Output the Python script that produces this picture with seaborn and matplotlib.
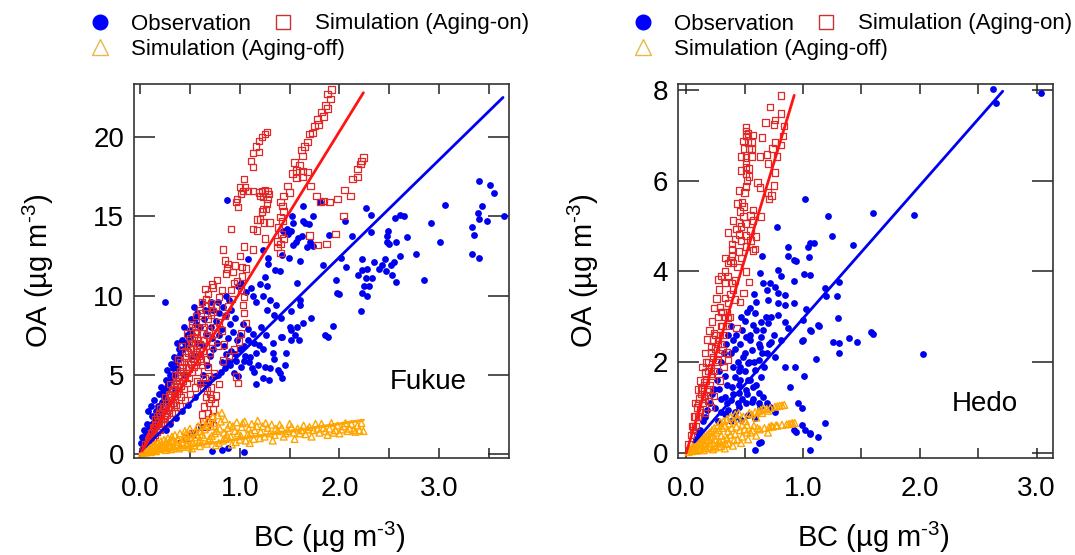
import numpy as np
import pandas as pd
import matplotlib
matplotlib.use("Agg")
import matplotlib.pyplot as plt
import seaborn as sns
from matplotlib.lines import Line2D

# values, (BC, OA) in ug m-3
fukue_obs = [
    (3.40, 17.2), (3.51, 17.0), (3.55, 16.5), (3.43, 15.65), (3.39, 15.2), (3.40, 14.8),
    (3.48, 14.7), (3.65, 15.0), (3.33, 14.3), (3.35, 13.8), (3.33, 12.6), (3.40, 12.4),
    (3.06, 15.7), (2.92, 14.6), (3.01, 13.4), (2.85, 11.0), (2.77, 12.6), (2.68, 13.7),
    (2.61, 15.1), (2.65, 15.0), (2.56, 14.9), (2.57, 13.4), (2.49, 14.1), (2.48, 13.75),
    (2.48, 13.4), (2.50, 13.25), (2.61, 12.5), (2.46, 12.3), (2.55, 12.1), (2.52, 11.9),
    (2.43, 11.9), (2.40, 11.7), (2.47, 11.55), (2.53, 11.3), (2.57, 10.85), (2.35, 12.1),
    (2.28, 11.7), (2.23, 11.6), (2.23, 12.3), (2.19, 11.3), (2.27, 11.1), (2.33, 11.1),
    (2.25, 10.6), (2.30, 10.6), (2.23, 10.15), (2.28, 10.0), (2.22, 9.0), (2.27, 15.5),
    (2.32, 15.1), (2.32, 14.0), (2.13, 13.75), (2.06, 14.7), (2.07, 11.8), (2.02, 12.4),
    (1.97, 11.0), (1.98, 10.15), (2.00, 10.1), (1.93, 8.1),
    (0.87, 16.0), (1.63, 15.65), (1.80, 15.9), (1.73, 15.0), (1.63, 14.7), (1.65, 14.6),
    (1.69, 14.5), (1.52, 15.0), (1.53, 14.6), (1.47, 14.2), (1.43, 14.1), (1.48, 13.9),
    (1.51, 14.1), (1.62, 13.75), (1.70, 13.4), (1.58, 13.6), (1.56, 13.4), (1.53, 13.2),
    (1.67, 13.05), (1.73, 13.1), (1.89, 13.8), (1.42, 12.55), (1.49, 12.4), (1.60, 12.2),
    (1.28, 12.4), (1.28, 12.0), (1.23, 12.9), (1.08, 12.3), (1.35, 11.6), (1.40, 11.55),
    (1.83, 11.9), (1.25, 11.2), (1.57, 10.8), (1.60, 9.7), (1.42, 7.4),
    (0.25, 9.6), (1.20, 10.7), (1.27, 10.6), (1.23, 10.0), (1.36, 9.4), (1.30, 9.7), (1.27, 9.1),
    (1.34, 8.8), (1.41, 8.6), (1.51, 9.0), (1.60, 9.4), (1.71, 8.6), (1.63, 8.25), (1.50, 8.0),
    (1.51, 7.8), (1.57, 8.0), (1.55, 7.5), (1.59, 7.2), (1.51, 7.2), (1.41, 7.4), (1.33, 7.0),
    (1.23, 6.6), (1.33, 6.4), (1.46, 6.4), (1.38, 5.3), (1.40, 5.1), (1.29, 4.7), (1.23, 4.8),
    (1.14, 5.2), (1.09, 5.8), (1.04, 5.9), (1.01, 5.5), (0.98, 4.9), (0.94, 5.1), (1.12, 5.4),
    (1.16, 6.4), (1.19, 6.9), (1.13, 7.6), (1.08, 7.9), (1.03, 8.2), (0.95, 8.6), (0.91, 9.1),
    (0.89, 9.7), (1.06, 10.25), (1.11, 10.45), (1.13, 10.0), (1.16, 9.6), (1.21, 8.0), (1.26, 7.5),
    (1.14, 7.0), (1.08, 7.2), (1.04, 6.8), (0.88, 5.9), (0.91, 6.5), (0.84, 6.8), (0.79, 7.5),
    (0.76, 8.4), (0.71, 8.0), (0.66, 7.6), (0.62, 9.5), (0.65, 9.1), (0.54, 9.3), (0.57, 8.9),
    (0.51, 8.5), (0.44, 8.0), (0.47, 7.5), (0.37, 7.0), (0.39, 6.6), (0.34, 6.1), (0.31, 5.7),
    (0.27, 5.3), (0.26, 4.7), (0.21, 4.2), (0.19, 3.8), (0.14, 3.4), (0.11, 3.0), (0.08, 2.7),
    (0.12, 2.4), (0.07, 1.9), (0.04, 1.5), (0.02, 1.1), (0.01, 0.7), (0.17, 2.6), (0.24, 3.6),
    (0.32, 4.9), (0.61, 1.7), (0.52, 1.3), (0.81, 5.2), (0.96, 5.9), (1.85, 7.5), (1.88, 7.4),
    (0.79, 8.9), (0.71, 9.6), (0.86, 10.0), (0.98, 10.6), (1.01, 10.8), (1.16, 4.4), (1.42, 4.8),
    (0.03, 0.4), (0.05, 0.9), (0.06, 1.3), (0.09, 1.7), (0.10, 1.1), (0.12, 1.9), (0.13, 1.4),
    (0.15, 2.3), (0.16, 1.7), (0.18, 3.0), (0.20, 2.3), (0.22, 3.3), (0.24, 2.7), (0.25, 4.0),
    (0.28, 4.4), (0.29, 3.3), (0.30, 5.0), (0.33, 5.4), (0.35, 4.1), (0.36, 5.8), (0.40, 6.3),
    (0.42, 7.2), (0.45, 5.0), (0.48, 6.9), (0.50, 7.8), (0.53, 6.2), (0.56, 8.2), (0.58, 7.0),
    (0.60, 4.4), (0.63, 5.0), (0.67, 5.6), (0.70, 6.2), (0.73, 6.6), (0.77, 7.0), (0.68, 4.5),
    (0.75, 4.9), (0.82, 5.8), (0.86, 6.3), (0.55, 3.6), (0.48, 3.1), (0.42, 2.7), (0.36, 2.3),
    (0.30, 1.9), (0.26, 1.5), (0.72, 0.2), (0.82, 0.25), (0.88, 0.35), (1.04, 0.1),
    (0.05, 0.4), (0.07, 1.0), (0.09, 1.3), (0.11, 1.6), (0.14, 2.0), (0.16, 2.7), (0.19, 2.5),
    (0.21, 3.1), (0.23, 3.9), (0.26, 3.5), (0.27, 4.2), (0.31, 4.6), (0.34, 5.0), (0.37, 5.4),
    (0.39, 6.0), (0.43, 6.6), (0.45, 7.0), (0.49, 7.3), (0.52, 7.6), (0.55, 8.6), (0.60, 8.0),
    (0.64, 8.5), (0.68, 9.0), (0.73, 9.1), (0.78, 9.6), (0.83, 9.3), (0.86, 8.8), (0.90, 8.2),
    (0.93, 7.7), (0.97, 7.2), (1.00, 6.6), (1.05, 6.2), (1.10, 6.1), (1.18, 5.6), (1.25, 5.5),
    (1.30, 5.4), (1.34, 6.0), (1.45, 5.6), (0.85, 5.4), (0.78, 5.0), (0.72, 4.8), (0.65, 4.5),
    (0.90, 5.6), (0.95, 6.3), (1.00, 7.5), (0.88, 7.3), (0.82, 7.9), (0.72, 7.3), (0.62, 6.9),
    (0.60, 6.3),
]

fukue_on = [
    (1.92, 23.0), (1.88, 22.7), (1.91, 22.4), (1.86, 22.0), (1.88, 21.8), (1.82, 21.6), (1.84, 21.3),
    (1.78, 21.1), (1.79, 20.8), (1.75, 20.7), (1.73, 20.25), (1.70, 20.2), (1.68, 19.7), (1.65, 19.4),
    (1.62, 19.2), (1.63, 18.8), (1.55, 18.4), (1.60, 18.2), (1.57, 17.9), (1.63, 17.85), (1.68, 17.8),
    (1.53, 17.7), (1.57, 17.4), (1.63, 17.5), (1.71, 16.9), (1.48, 16.9), (1.50, 16.5), (1.44, 16.3),
    (1.77, 16.3), (1.81, 15.9), (1.41, 15.9), (1.43, 15.65), (1.44, 15.3), (1.41, 14.95), (1.43, 14.7),
    (1.39, 14.3), (1.42, 13.9), (1.44, 13.6), (1.38, 13.4), (1.41, 13.25), (1.84, 15.95), (1.90, 15.9),
    (1.98, 16.1), (2.05, 16.65), (2.11, 16.3), (2.04, 15.0), (1.96, 13.9), (1.87, 13.25), (1.78, 13.2),
    (1.70, 13.8), (2.13, 17.35), (2.18, 17.5), (2.18, 18.0), (2.21, 18.3), (2.24, 18.7), (2.22, 18.5),
    (1.27, 20.3), (1.25, 20.2), (1.22, 20.0), (1.19, 19.75), (1.16, 19.4), (1.13, 19.0), (1.19, 19.05),
    (1.11, 18.5), (1.13, 18.1), (1.04, 17.35), (1.00, 16.85), (1.05, 16.85), (1.03, 16.6), (1.08, 16.6),
    (1.13, 16.6), (1.19, 16.5), (1.22, 16.6), (1.25, 16.65), (1.28, 16.6), (1.29, 16.4), (1.23, 16.2),
    (1.20, 16.3), (0.97, 16.1), (0.96, 15.9), (0.98, 15.6), (1.01, 16.4), (1.28, 16.1), (1.27, 15.8),
    (1.23, 15.45), (1.26, 15.45), (1.22, 15.3), (1.17, 14.8), (1.20, 14.8), (1.30, 14.6), (1.24, 14.6),
    (1.13, 14.2), (1.17, 14.1), (0.91, 14.2), (1.25, 13.6), (1.04, 13.1), (1.13, 12.9), (0.83, 12.9),
    (1.00, 12.5), (0.85, 12.2), (0.88, 12.0), (0.95, 11.9), (1.02, 11.8), (1.06, 11.7), (0.87, 11.7),
    (0.86, 11.4), (0.93, 11.5), (1.02, 11.2), (0.97, 10.9), (1.38, 13.05), (1.41, 12.7),
    (0.72, 10.7), (0.82, 10.35), (0.79, 9.9), (0.91, 10.35), (0.94, 10.8), (1.01, 10.35), (1.04, 9.9),
    (1.03, 9.4), (1.04, 8.9), (1.06, 8.25), (1.01, 7.6), (0.99, 7.1), (0.94, 6.6), (0.89, 6.2),
    (0.83, 5.9), (0.84, 6.9), (0.82, 7.8), (0.74, 8.0), (0.68, 8.5), (0.61, 8.9), (0.66, 9.3),
    (0.71, 9.5), (0.63, 7.2), (0.57, 7.6), (0.52, 8.0), (0.51, 7.0), (0.56, 6.4), (0.61, 5.9),
    (0.68, 5.5), (0.69, 4.9), (0.71, 4.2), (0.66, 3.6), (0.69, 3.2), (0.73, 2.8), (0.68, 2.6),
    (0.63, 2.1), (0.66, 1.7), (0.59, 1.7), (0.52, 1.3), (0.46, 1.0), (0.41, 0.7), (0.76, 3.7),
    (0.79, 4.4), (0.74, 5.1), (0.78, 6.8), (0.96, 4.9), (0.98, 4.5), (0.68, 10.1), (0.73, 10.5),
    (0.66, 9.8), (0.77, 11.0),
    (0.03, 0.3), (0.05, 0.6), (0.06, 0.4), (0.08, 0.9), (0.09, 0.7), (0.10, 1.1), (0.11, 0.8),
    (0.12, 1.4), (0.13, 1.0), (0.14, 1.6), (0.15, 1.2), (0.16, 1.9), (0.17, 1.4), (0.18, 2.1),
    (0.19, 1.6), (0.20, 2.4), (0.21, 1.8), (0.22, 2.7), (0.23, 2.0), (0.24, 2.9), (0.25, 2.3),
    (0.26, 3.2), (0.27, 2.5), (0.28, 3.4), (0.29, 2.8), (0.30, 3.7), (0.31, 3.0), (0.32, 4.0),
    (0.33, 3.2), (0.34, 4.3), (0.35, 3.5), (0.36, 4.6), (0.37, 3.8), (0.38, 4.9), (0.39, 4.0),
    (0.40, 5.2), (0.41, 4.3), (0.42, 5.5), (0.43, 4.6), (0.44, 5.8), (0.45, 4.9), (0.46, 6.1),
    (0.47, 5.1), (0.48, 6.4), (0.49, 5.4), (0.50, 6.7), (0.51, 5.7), (0.52, 7.0), (0.53, 6.0),
    (0.54, 7.4), (0.55, 6.3), (0.56, 7.7), (0.57, 6.6), (0.58, 8.0), (0.60, 6.9), (0.62, 8.3),
    (0.64, 7.2), (0.20, 1.5), (0.30, 2.2), (0.40, 3.0), (0.50, 3.8), (0.55, 4.2), (0.60, 4.5),
    (0.65, 4.8), (0.35, 2.6), (0.45, 3.4), (0.25, 1.9), (0.15, 2.2), (0.20, 2.9), (0.25, 3.6),
    (0.30, 4.4), (0.35, 5.0), (0.40, 5.8), (0.45, 6.5), (0.50, 7.3), (0.55, 8.0), (0.38, 6.0),
    (0.42, 6.8), (0.47, 7.6), (0.52, 8.2), (0.56, 8.7), (0.60, 9.1), (0.62, 9.6), (0.65, 10.4),
    (0.58, 5.2), (0.62, 5.6), (0.66, 6.0), (0.70, 6.4), (0.72, 7.1), (0.75, 7.6), (0.79, 8.3),
    (0.85, 8.7), (0.88, 9.3), (0.92, 9.8), (0.64, 3.0), (0.62, 2.5), (0.70, 3.8), (0.72, 2.3),
    (0.75, 3.2),
    (0.07, 0.6), (0.09, 1.0), (0.11, 1.3), (0.13, 1.7), (0.15, 1.8), (0.17, 2.4), (0.19, 2.6),
    (0.21, 2.2), (0.23, 3.0), (0.24, 2.2), (0.26, 2.8), (0.28, 2.9), (0.29, 3.8), (0.31, 3.4),
    (0.32, 2.6), (0.33, 4.1), (0.34, 3.7), (0.36, 3.1), (0.37, 4.4), (0.39, 4.6), (0.41, 3.6),
    (0.41, 5.0), (0.43, 5.2), (0.44, 4.1), (0.46, 5.5), (0.47, 4.5), (0.48, 5.8), (0.49, 4.8),
    (0.51, 6.2), (0.52, 5.2), (0.53, 6.6), (0.54, 5.5), (0.55, 7.0), (0.57, 5.8), (0.58, 7.2),
    (0.59, 6.2), (0.61, 7.6), (0.63, 6.5), (0.64, 8.0), (0.66, 6.8), (0.67, 7.5), (0.69, 7.8),
    (0.71, 8.8), (0.73, 9.0), (0.76, 9.3), (0.57, 4.6), (0.63, 4.2), (0.67, 4.0), (0.71, 3.5),
    (0.70, 2.0), (0.73, 1.8),
]

fukue_off = [
    (0.02, 0.05), (0.04, 0.1), (0.05, 0.2), (0.07, 0.15), (0.08, 0.3), (0.10, 0.2), (0.10, 0.4),
    (0.12, 0.3), (0.13, 0.5), (0.15, 0.25), (0.15, 0.6), (0.17, 0.4), (0.18, 0.7), (0.20, 0.3),
    (0.20, 0.55), (0.21, 0.8), (0.23, 0.45), (0.24, 0.9), (0.25, 0.65), (0.27, 0.35), (0.28, 1.0),
    (0.29, 0.7), (0.30, 0.5), (0.32, 1.1), (0.33, 0.8), (0.34, 0.4), (0.35, 1.2), (0.37, 0.6),
    (0.38, 0.95), (0.40, 1.3), (0.41, 0.45), (0.42, 0.75), (0.44, 1.1), (0.45, 1.45), (0.47, 0.55),
    (0.48, 0.9), (0.50, 1.25), (0.50, 1.6), (0.52, 0.35), (0.53, 0.7), (0.55, 1.05), (0.56, 1.4),
    (0.58, 1.75), (0.60, 0.5), (0.60, 0.9), (0.62, 1.2), (0.63, 1.95), (0.65, 1.55), (0.67, 0.65),
    (0.68, 2.15), (0.70, 1.0), (0.71, 1.75), (0.73, 2.35), (0.75, 1.3), (0.76, 0.55), (0.78, 2.45),
    (0.80, 1.6), (0.82, 2.6), (0.83, 0.85), (0.85, 2.2), (0.87, 1.2), (0.90, 1.85), (0.92, 0.6),
    (0.95, 1.45), (0.97, 2.0), (1.00, 0.9), (1.02, 1.7), (1.05, 2.05), (1.08, 1.25), (1.10, 0.7),
    (1.12, 1.9), (1.15, 1.5), (1.18, 2.1), (1.20, 1.0), (1.23, 1.75), (1.26, 1.95), (1.30, 1.3),
    (1.33, 0.85), (1.36, 1.6), (1.40, 1.85), (1.44, 1.1), (1.48, 1.45), (1.52, 1.7), (1.55, 0.95),
    (1.60, 1.3), (1.64, 1.8), (1.68, 1.55), (1.72, 1.1), (1.76, 1.9), (1.80, 1.35), (1.84, 1.65),
    (1.88, 1.2), (1.92, 1.95), (1.96, 1.5), (2.00, 1.3), (2.04, 1.75), (2.08, 1.45), (2.12, 1.9),
    (2.16, 1.4), (2.20, 1.5), (2.24, 1.45),
    (0.06, 0.1), (0.09, 0.22), (0.11, 0.12), (0.14, 0.42), (0.16, 0.18), (0.19, 0.5), (0.22, 0.62),
    (0.26, 0.25), (0.26, 0.8), (0.31, 0.3), (0.31, 0.9), (0.36, 0.75), (0.39, 0.35), (0.43, 0.95),
    (0.46, 1.25), (0.49, 0.45), (0.51, 1.05), (0.54, 0.55), (0.57, 1.2), (0.59, 0.75), (0.61, 1.45),
    (0.64, 1.05), (0.66, 1.8), (0.69, 0.85), (0.72, 1.15), (0.74, 1.95), (0.77, 1.45), (0.79, 0.7),
    (0.81, 2.05), (0.84, 1.35), (0.86, 0.95), (0.88, 1.65), (0.91, 1.1), (0.93, 1.75), (0.96, 0.75),
    (0.98, 1.3), (1.01, 1.15), (1.03, 1.95), (1.06, 0.85), (1.09, 1.6), (1.11, 1.35), (1.14, 0.95),
    (1.17, 1.75), (1.21, 1.4), (1.25, 1.1), (1.28, 1.65), (1.32, 1.85), (1.35, 1.2), (1.38, 1.45),
    (1.42, 1.65), (1.46, 1.3), (1.50, 1.9), (1.54, 1.35), (1.58, 1.6), (1.62, 1.5), (1.66, 1.25),
    (1.70, 1.7), (1.74, 1.5), (1.78, 1.6), (1.82, 1.9), (1.86, 1.45), (1.90, 1.6), (1.94, 1.35),
    (1.98, 1.8), (2.02, 1.55), (2.06, 1.95), (2.10, 1.6), (2.14, 1.5), (2.18, 1.8), (2.22, 1.95),
]

hedo_obs = [
    (2.63, 8.01), (2.65, 7.70), (3.04, 7.94), (1.02, 5.59), (1.21, 5.23), (1.60, 5.29), (1.95, 5.25),
    (1.25, 4.79), (1.43, 4.58), (1.04, 4.53), (1.06, 4.62), (1.09, 4.62), (1.05, 4.32), (1.01, 3.94),
    (1.06, 3.93), (1.19, 3.63), (1.20, 3.46), (1.29, 3.46), (1.31, 3.76), (1.03, 3.17), (1.30, 2.97),
    (1.14, 2.80), (1.07, 2.68), (0.99, 2.47), (1.26, 2.44), (1.31, 2.42), (1.39, 2.53), (1.46, 2.44),
    (1.58, 2.66), (1.60, 2.62), (1.31, 2.20), (1.11, 2.06), (2.03, 2.18), (1.01, 1.70), (0.99, 0.99),
    (1.19, 0.66), (0.99, 0.62), (1.02, 0.51), (1.06, 0.42), (1.13, 0.35), (1.06, 0.07),
    (0.78, 4.97), (0.87, 4.53), (0.65, 4.33), (0.87, 4.35), (0.92, 4.26), (0.94, 4.22),
    (0.63, 3.97), (0.79, 4.04), (0.81, 3.89), (0.92, 3.80), (0.66, 3.75), (0.72, 3.75), (0.76, 3.66),
    (0.69, 3.60), (0.79, 3.53), (0.85, 3.49), (0.60, 3.33), (0.70, 3.38), (0.79, 3.31), (0.85, 3.27),
    (0.92, 3.31), (0.59, 3.09), (0.68, 3.00), (0.73, 3.00), (0.79, 3.05), (0.57, 2.83), (0.64, 2.89),
    (0.70, 2.87), (0.85, 2.89), (0.87, 2.76), (0.51, 2.56), (0.55, 2.49), (0.64, 2.56), (0.75, 2.61),
    (0.73, 2.45), (0.63, 2.34), (0.56, 2.27), (0.49, 2.12), (0.46, 1.90), (0.53, 1.99), (0.62, 2.05),
    (0.69, 2.21), (0.76, 2.12), (0.81, 2.49), (0.59, 1.83), (0.64, 1.68), (0.55, 1.61), (0.46, 1.61),
    (0.42, 1.68), (0.39, 1.46), (0.45, 1.32), (0.51, 1.39), (0.57, 1.46), (0.62, 1.32), (0.66, 1.24),
    (0.69, 1.10), (0.63, 1.02), (0.56, 1.13), (0.51, 1.10), (0.45, 1.02), (0.38, 1.17), (0.33, 1.24),
    (0.36, 0.95), (0.42, 0.79), (0.47, 0.73), (0.53, 0.84), (0.59, 0.77), (0.72, 1.02), (0.76, 0.91),
    (0.85, 1.90), (0.93, 1.90), (0.89, 1.46), (0.96, 1.10), (0.92, 0.51), (0.94, 0.46), (1.06, 0.44),
    (0.62, 0.22), (0.64, 0.24), (0.59, 0.07), (1.00, 2.49), (1.13, 2.83), (1.06, 2.72), (1.00, 2.94),
    (0.08, 0.30), (0.10, 0.45), (0.12, 0.50), (0.14, 0.70), (0.16, 0.80), (0.18, 0.95), (0.20, 1.10),
    (0.22, 1.30), (0.24, 1.40), (0.26, 1.60), (0.28, 1.80), (0.30, 2.00), (0.32, 2.20), (0.34, 2.40),
    (0.36, 2.60), (0.38, 2.80), (0.40, 2.50), (0.42, 2.30), (0.44, 2.00), (0.46, 2.40), (0.48, 2.70),
    (0.50, 2.90), (0.52, 3.10), (0.45, 1.80), (0.40, 1.90), (0.35, 1.50), (0.30, 1.20), (0.25, 1.00),
    (0.28, 1.40), (0.33, 1.70), (0.38, 2.20), (0.43, 2.60), (0.47, 3.00), (0.55, 3.20), (0.50, 2.20),
    (0.55, 2.60), (0.60, 2.70), (0.58, 2.00), (0.62, 2.40), (0.65, 2.20), (0.35, 1.10), (0.40, 1.30),
    (0.30, 0.90), (0.45, 1.50), (0.50, 1.80), (0.27, 0.70), (0.33, 0.85), (0.38, 0.70), (0.42, 0.90),
    (0.53, 1.60), (0.60, 1.50), (0.67, 1.90), (0.71, 2.40), (0.66, 2.70), (0.58, 3.50), (0.54, 2.00),
    (0.48, 1.20), (0.44, 1.10), (0.52, 1.30), (0.57, 1.20), (0.62, 1.10),
]

hedo_on = [
    (0.81, 7.88), (0.72, 7.62), (0.81, 7.48), (0.76, 7.33), (0.68, 7.28), (0.75, 7.24), (0.84, 7.20),
    (0.51, 7.17), (0.51, 7.09), (0.53, 7.04), (0.57, 7.00), (0.51, 6.98), (0.65, 6.95), (0.83, 6.98),
    (0.49, 6.87), (0.53, 6.84), (0.56, 6.84), (0.76, 6.84), (0.81, 6.78), (0.50, 6.71), (0.54, 6.71),
    (0.56, 6.71), (0.74, 6.71), (0.47, 6.53), (0.51, 6.51), (0.56, 6.53), (0.63, 6.53), (0.69, 6.58),
    (0.78, 6.53), (0.51, 6.40), (0.70, 6.38), (0.51, 6.29), (0.54, 6.27), (0.47, 6.22), (0.76, 6.18),
    (0.51, 6.16), (0.54, 6.09), (0.52, 6.00), (0.61, 5.96), (0.63, 5.85), (0.75, 5.89), (0.51, 5.87),
    (0.45, 5.78), (0.50, 5.74), (0.70, 5.74), (0.73, 5.67), (0.71, 5.60), (0.48, 5.52), (0.44, 5.50),
    (0.49, 5.43), (0.57, 5.36), (0.46, 5.32), (0.55, 5.23), (0.64, 5.21), (0.49, 5.21), (0.40, 5.12),
    (0.45, 5.08), (0.51, 5.06), (0.57, 5.12), (0.47, 4.99), (0.43, 4.94), (0.55, 4.90), (0.36, 4.86),
    (0.45, 4.81), (0.51, 4.79), (0.60, 4.77), (0.42, 4.72), (0.47, 4.68), (0.55, 4.68), (0.39, 4.61),
    (0.51, 4.55), (0.59, 4.50), (0.39, 4.48), (0.45, 4.44), (0.39, 4.35), (0.57, 4.46), (0.38, 4.24),
    (0.36, 4.19), (0.40, 4.19), (0.33, 4.00), (0.27, 3.82), (0.36, 3.90), (0.33, 3.75), (0.39, 3.75),
    (0.51, 4.00), (0.54, 3.77), (0.49, 3.53), (0.46, 3.33), (0.42, 3.38), (0.33, 3.42), (0.29, 3.22),
    (0.31, 3.11), (0.27, 3.00), (0.36, 2.98), (0.43, 2.76), (0.30, 2.80), (0.24, 2.65), (0.27, 2.49),
    (0.21, 2.34), (0.21, 2.21), (0.31, 2.27), (0.36, 2.05), (0.35, 2.21), (0.27, 2.05), (0.17, 1.99),
    (0.16, 1.77), (0.21, 1.74), (0.15, 1.55), (0.13, 1.43), (0.20, 1.41), (0.15, 1.26), (0.19, 1.14),
    (0.10, 1.10), (0.12, 0.95), (0.08, 0.80), (0.16, 0.88), (0.06, 0.58), (0.21, 1.02), (0.24, 1.26),
    (0.29, 1.60), (0.32, 1.90),
    (0.02, 0.2), (0.04, 0.4), (0.05, 0.6), (0.06, 0.5), (0.07, 0.8), (0.08, 0.6), (0.09, 1.0),
    (0.10, 0.8), (0.11, 1.2), (0.12, 0.9), (0.13, 1.3), (0.14, 1.1), (0.15, 1.5), (0.16, 1.2),
    (0.17, 1.6), (0.18, 1.4), (0.19, 1.8), (0.20, 1.5), (0.21, 1.9), (0.22, 1.7), (0.23, 2.1),
    (0.24, 1.8), (0.25, 2.3), (0.26, 2.0), (0.27, 2.4), (0.28, 2.2), (0.29, 2.6), (0.30, 2.4),
    (0.31, 2.8), (0.32, 2.6), (0.33, 3.0), (0.34, 2.8), (0.35, 3.1), (0.36, 3.3), (0.37, 3.0),
    (0.38, 3.5), (0.40, 3.6), (0.42, 3.8), (0.12, 1.6), (0.14, 1.9), (0.10, 1.4), (0.08, 1.1),
    (0.16, 2.2), (0.18, 2.5), (0.20, 2.7), (0.22, 2.9), (0.24, 3.2), (0.26, 3.4), (0.28, 3.6),
    (0.44, 4.1), (0.47, 4.3), (0.30, 3.9), (0.33, 4.3), (0.14, 1.4), (0.19, 2.0), (0.25, 2.6),
    (0.30, 3.1), (0.23, 2.5),
]

hedo_off = [
    (0.02, 0.02), (0.03, 0.06), (0.05, 0.04), (0.05, 0.12), (0.07, 0.08), (0.08, 0.18), (0.09, 0.05),
    (0.10, 0.14), (0.11, 0.25), (0.12, 0.10), (0.13, 0.20), (0.14, 0.32), (0.15, 0.06), (0.16, 0.16),
    (0.17, 0.28), (0.18, 0.40), (0.19, 0.12), (0.20, 0.22), (0.21, 0.35), (0.22, 0.50), (0.23, 0.08),
    (0.24, 0.18), (0.25, 0.30), (0.26, 0.45), (0.27, 0.60), (0.28, 0.14), (0.29, 0.25), (0.30, 0.38),
    (0.31, 0.55), (0.32, 0.70), (0.33, 0.10), (0.34, 0.20), (0.35, 0.32), (0.36, 0.48), (0.37, 0.65),
    (0.38, 0.80), (0.40, 0.16), (0.41, 0.28), (0.42, 0.42), (0.43, 0.58), (0.44, 0.75), (0.45, 0.88),
    (0.47, 0.22), (0.48, 0.36), (0.50, 0.52), (0.51, 0.70), (0.53, 0.30), (0.55, 0.45), (0.56, 0.85),
    (0.58, 0.60), (0.60, 0.38), (0.62, 0.92), (0.63, 0.52), (0.66, 0.98), (0.67, 0.55), (0.70, 0.45),
    (0.72, 0.99), (0.74, 0.58), (0.76, 1.02), (0.78, 0.60), (0.80, 1.04), (0.82, 0.62), (0.84, 1.06),
    (0.86, 0.63), (0.90, 0.65), (0.93, 0.66), (0.65, 0.88), (0.70, 0.93), (0.60, 0.78), (0.52, 0.62),
    (0.04, 0.08), (0.06, 0.15), (0.08, 0.10), (0.09, 0.22), (0.11, 0.08), (0.12, 0.18), (0.13, 0.30),
    (0.15, 0.20), (0.16, 0.36), (0.17, 0.10), (0.19, 0.30), (0.20, 0.45), (0.21, 0.15), (0.23, 0.38),
    (0.24, 0.55), (0.25, 0.12), (0.27, 0.22), (0.28, 0.50), (0.29, 0.68), (0.30, 0.15), (0.32, 0.30),
    (0.33, 0.60), (0.35, 0.75), (0.36, 0.22), (0.38, 0.40), (0.39, 0.55), (0.41, 0.70), (0.42, 0.85),
    (0.44, 0.30), (0.46, 0.50), (0.48, 0.62), (0.49, 0.80), (0.52, 0.45), (0.54, 0.88), (0.57, 0.50),
    (0.59, 0.90), (0.61, 0.55), (0.64, 0.95), (0.69, 0.97), (0.71, 0.57), (0.73, 0.60), (0.77, 0.61),
    (0.78, 1.03), (0.82, 1.05), (0.88, 0.64), (0.91, 0.66),
]

# regression lines (end points)
fukue_obs_fit = ([0.0, 3.64], [0.13, 22.5])
fukue_on_fit = ([0.0, 2.24], [0.0, 22.8])
fukue_off_fit = ([0.0, 2.24], [0.0, 2.14])
hedo_obs_fit = ([0.07, 2.71], [0.24, 7.97])
hedo_on_fit = ([0.0, 0.925], [0.0, 7.88])

xtick_vals = [0, 1, 2, 3]
xtick_labels = ["0.0", "1.0", "2.0", "3.0"]
xtick_minor = [0.5, 1.5, 2.5, 3.5]
fukue_yticks = [0, 5, 10, 15, 20]
hedo_yticks = [0, 2, 4, 6, 8]

sns.set_style("ticks")
plt.rcParams["font.family"] = ["Liberation Sans", "DejaVu Sans"]
plt.rcParams["mathtext.fontset"] = "custom"
plt.rcParams["mathtext.rm"] = "Liberation Sans"
plt.rcParams["mathtext.it"] = "Liberation Sans:italic"
plt.rcParams["mathtext.bf"] = "Liberation Sans:bold"
for key in ["text.color", "axes.labelcolor", "xtick.labelcolor", "ytick.labelcolor"]:
    plt.rcParams[key] = "black"

BLUE = "#0000f0"
RED_SQ = "#e02828"
RED_LN = "#ff1414"
ORANGE = "#ffa500"
UNIT = "(µg m$^{\u2010 3}$)"


def to_df(pairs):
    return pd.DataFrame(pairs, columns=["bc", "oa"])


def draw_panel(ax, obs, on, off, fits, xlim, ylim, yticks, site, site_xy):
    sns.scatterplot(data=to_df(obs), x="bc", y="oa", ax=ax, marker="o", s=24,
                    color=BLUE, edgecolor=BLUE, linewidth=0)
    sns.scatterplot(data=to_df(on), x="bc", y="oa", ax=ax, marker="s", s=21,
                    facecolor="none", edgecolor=RED_SQ, linewidth=0.9)
    sns.scatterplot(data=to_df(off), x="bc", y="oa", ax=ax, marker="^", s=24,
                    facecolor="none", edgecolor=ORANGE, linewidth=1.0)
    for (fx, fy), c in fits:
        sns.lineplot(x=fx, y=fy, ax=ax, color=c, linewidth=2.0, estimator=None)

    ax.set_xlim(*xlim)
    ax.set_ylim(*ylim)
    ax.set_xticks(xtick_vals)
    ax.set_xticklabels(xtick_labels)
    ax.set_xticks([t for t in xtick_minor if t < xlim[1]], minor=True)
    ax.set_yticks(yticks)
    ax.tick_params(axis="x", which="both", direction="in", length=7, width=1.1,
                   top=True, bottom=True, labelsize=20, pad=13, color="#222222")
    ax.tick_params(axis="y", which="both", direction="in", length=15, width=1.1,
                   left=True, right=True, labelsize=20, pad=7, color="#222222")
    for sp in ax.spines.values():
        sp.set_linewidth(1.2)
        sp.set_color("#333333")

    ax.set_xlabel("BC " + UNIT, fontsize=21)
    ax.set_ylabel("OA " + UNIT, fontsize=21)
    ax.text(site_xy[0], site_xy[1], site, fontsize=20, ha="center", va="center")


fig = plt.figure(figsize=(10.75, 5.55), dpi=100)
ax1 = fig.add_axes([0.1247, 0.1748, 0.3488, 0.6739])
ax2 = fig.add_axes([0.6307, 0.1748, 0.3488, 0.6739])

draw_panel(ax1, fukue_obs, fukue_on, fukue_off,
           [(fukue_obs_fit, BLUE), (fukue_on_fit, RED_LN), (fukue_off_fit, ORANGE)],
           (-0.06, 3.70), (-0.25, 23.35), fukue_yticks, "Fukue", (2.89, 4.54))
draw_panel(ax2, hedo_obs, hedo_on, hedo_off,
           [(hedo_obs_fit, BLUE), (hedo_on_fit, RED_LN)],
           (-0.07, 3.14), (-0.11, 8.13), hedo_yticks, "Hedo", (2.56, 1.08))

ax1.xaxis.set_label_coords(0.52, -0.165)
ax2.xaxis.set_label_coords(0.52, -0.165)
ax1.yaxis.set_label_coords(-0.208, 0.5)
ax2.yaxis.set_label_coords(-0.205, 0.5)

h_obs = Line2D([], [], linestyle="none", marker="o", markersize=10.5,
               markerfacecolor="#0000ff", markeredgecolor="#0000ff")
h_on = Line2D([], [], linestyle="none", marker="s", markersize=10,
              markerfacecolor="none", markeredgecolor="#c83232", markeredgewidth=1.0)
h_off = Line2D([], [], linestyle="none", marker="^", markersize=11,
               markerfacecolor="none", markeredgecolor="#e8b84a", markeredgewidth=1.0)

leg_kw = dict(frameon=False, fontsize=16, handlelength=1.0, handletextpad=0.9,
              columnspacing=0.95, borderpad=0, borderaxespad=0, loc="center left",
              bbox_transform=fig.transFigure)
for ax, x0 in [(ax1, 89), (ax2, 632)]:
    first = ax.legend([h_obs, h_on], ["Observation", "Simulation (Aging-on)"], ncol=2,
                      bbox_to_anchor=(x0 / 1075, 1 - 24 / 555), **leg_kw)
    ax.add_artist(first)
    ax.legend([h_off], ["Simulation (Aging-off)"],
              bbox_to_anchor=(x0 / 1075, 1 - 49 / 555), **leg_kw)

fig.savefig("out.png", dpi=100)
